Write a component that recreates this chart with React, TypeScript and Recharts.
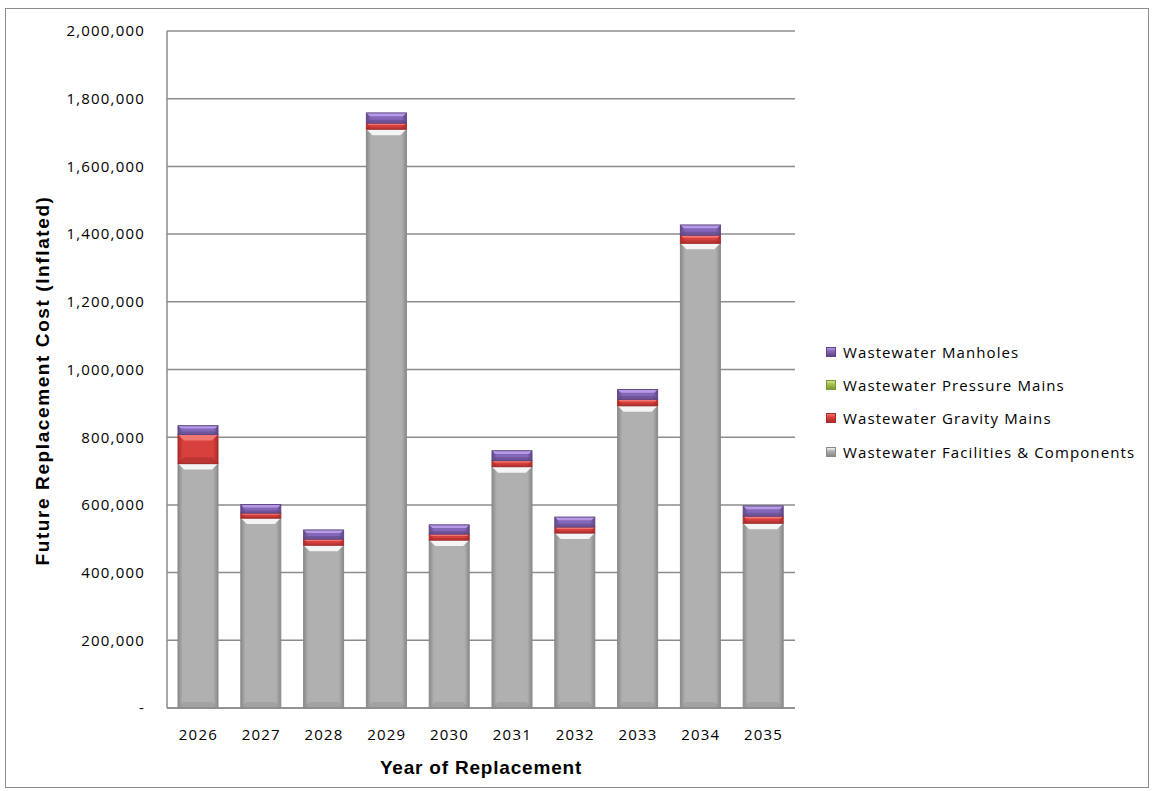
import { BarChart, Bar, XAxis, YAxis, CartesianGrid, Label } from 'recharts';

// replacement cost by year and asset class (inflated $)
const years = ['2026', '2027', '2028', '2029', '2030', '2031', '2032', '2033', '2034', '2035'];
const facilities = [722000, 561000, 481000, 1710000, 496000, 713000, 517000, 893000, 1373000, 546000];
const gravityMains = [86000, 15000, 18000, 18000, 18000, 18000, 18000, 19000, 24000, 21000];
const pressureMains = [0, 0, 0, 0, 0, 0, 0, 0, 0, 0];
const manholes = [26000, 25000, 27000, 30000, 27000, 29000, 29000, 29000, 30000, 30000];
const yTicks = [0, 200000, 400000, 600000, 800000, 1000000, 1200000, 1400000, 1600000, 1800000, 2000000];

const data = years.map((year, i) => ({
  year,
  facilities: facilities[i],
  gravity: gravityMains[i],
  pressure: pressureMains[i],
  manholes: manholes[i],
}));

const palette: Record<string, { edge: string; mid: string; bevel: string; dark: string }> = {
  facilities: { edge: '#8a8a8a', mid: '#b0b0b0', bevel: '#f4f4f4', dark: '#8e8e8e' },
  gravity: { edge: '#a92c2a', mid: '#d8403e', bevel: '#f27672', dark: '#8f2524' },
  pressure: { edge: '#7d9a35', mid: '#a5c24e', bevel: '#cde28a', dark: '#6b8529' },
  manholes: { edge: '#5e4785', mid: '#8467b8', bevel: '#b69ae6', dark: '#4f3b72' },
};

const legendItems = [
  { key: 'manholes', label: 'Wastewater Manholes' },
  { key: 'pressure', label: 'Wastewater Pressure Mains' },
  { key: 'gravity', label: 'Wastewater Gravity Mains' },
  { key: 'facilities', label: 'Wastewater Facilities & Components' },
];

const FONT = '"Open Sans", sans-serif';
const TITLE_FONT = '"Liberation Sans", Arial, sans-serif';

function bevelShape(key: string) {
  return (props: any) => {
    const { x, y, width, height } = props;
    if (!height || height <= 0) return <g />;
    const c = palette[key];
    const b = Math.min(6, height / 3);
    return (
      <g>
        <rect x={x} y={y} width={width} height={height} fill={`url(#grad-${key})`} />
        <polygon
          points={`${x},${y} ${x + width},${y} ${x + width - b},${y + b} ${x + b},${y + b}`}
          fill={c.bevel}
        />
        <polygon
          points={`${x},${y + height} ${x + width},${y + height} ${x + width - b},${y + height - b} ${x + b},${y + height - b}`}
          fill={c.dark}
          opacity={0.4}
        />
        <rect x={x} y={y} width={width} height={height} fill="none" stroke={c.edge} strokeWidth={1} />
      </g>
    );
  };
}

// rotated y-axis title, sitting a little below the plot's middle
const yTitle = (props: any) => {
  const { viewBox } = props;
  const cx = 42;
  const cy = viewBox.y + viewBox.height / 2 + 11;
  return (
    <text
      x={cx}
      y={cy}
      transform={`rotate(-90, ${cx}, ${cy})`}
      textAnchor="middle"
      dominantBaseline="central"
      style={{ fontSize: 19, fontWeight: 700, fill: '#000', fontFamily: TITLE_FONT, letterSpacing: 1.6 }}
    >
      Future Replacement Cost (Inflated)
    </text>
  );
};

const fmt = (v: number) => (v === 0 ? '-' : v.toLocaleString('en-US'));

export default function App() {
  return (
    <div style={{ position: 'absolute', left: 0, top: 0, width: 1152, height: 791, background: '#fff' }}>
      <div
        style={{
          position: 'absolute', left: 5, top: 8, width: 1144, height: 780,
          border: '1px solid #8c8c8c', boxSizing: 'border-box',
        }}
      />
      <BarChart
        width={1152}
        height={791}
        data={data}
        margin={{ top: 31, right: 357, left: 30, bottom: 40 }}
        barSize={40}
      >
        <defs>
          {Object.entries(palette).map(([k, c]) => (
            <linearGradient key={k} id={`grad-${k}`} x1="0" y1="0" x2="1" y2="0">
              <stop offset="0%" stopColor={c.edge} />
              <stop offset="12%" stopColor={c.mid} />
              <stop offset="88%" stopColor={c.mid} />
              <stop offset="100%" stopColor={c.edge} />
            </linearGradient>
          ))}
        </defs>
        <CartesianGrid vertical={false} stroke="#8c8c8c" strokeWidth={1.5} />
        <XAxis
          dataKey="year"
          axisLine={{ stroke: '#8c8c8c', strokeWidth: 1.5 }}
          tickLine={false}
          tickMargin={15}
          height={43}
          tick={{ fontSize: 15, fill: '#000', fontFamily: FONT, letterSpacing: 1.2 }}
        >
          <Label
            value="Year of Replacement"
            position="insideBottom"
            offset={-23}
            style={{ fontSize: 19, fontWeight: 700, fill: '#000', fontFamily: TITLE_FONT, letterSpacing: 0.8 }}
          />
        </XAxis>
        <YAxis
          domain={[0, 2000000]}
          ticks={yTicks}
          interval={0}
          tickFormatter={fmt}
          axisLine={{ stroke: '#8c8c8c', strokeWidth: 1.5 }}
          tickLine={false}
          tickSize={0}
          tickMargin={22}
          width={137}
          tick={{ fontSize: 15, fill: '#000', fontFamily: FONT, letterSpacing: 1.2 }}
        >
          <Label content={yTitle} />
        </YAxis>
        <Bar dataKey="facilities" stackId="a" isAnimationActive={false} shape={bevelShape('facilities')} />
        <Bar dataKey="gravity" stackId="a" isAnimationActive={false} shape={bevelShape('gravity')} />
        <Bar dataKey="pressure" stackId="a" isAnimationActive={false} shape={bevelShape('pressure')} />
        <Bar dataKey="manholes" stackId="a" isAnimationActive={false} shape={bevelShape('manholes')} />
      </BarChart>
      <div style={{ position: 'absolute', left: 826, top: 335, fontFamily: FONT, fontSize: 15, color: '#000' }}>
        {legendItems.map((it) => {
          const c = palette[it.key];
          return (
            <div key={it.key} style={{ display: 'flex', alignItems: 'center', height: 33.3, letterSpacing: 1.1 }}>
              <span
                style={{
                  display: 'inline-block', width: 10, height: 10, marginRight: 7,
                  background: `linear-gradient(180deg, ${c.bevel} 0%, ${c.mid} 40%, ${c.edge} 100%)`,
                  border: `1px solid ${c.edge}`, boxSizing: 'border-box',
                }}
              />
              {it.label}
            </div>
          );
        })}
      </div>
    </div>
  );
}
